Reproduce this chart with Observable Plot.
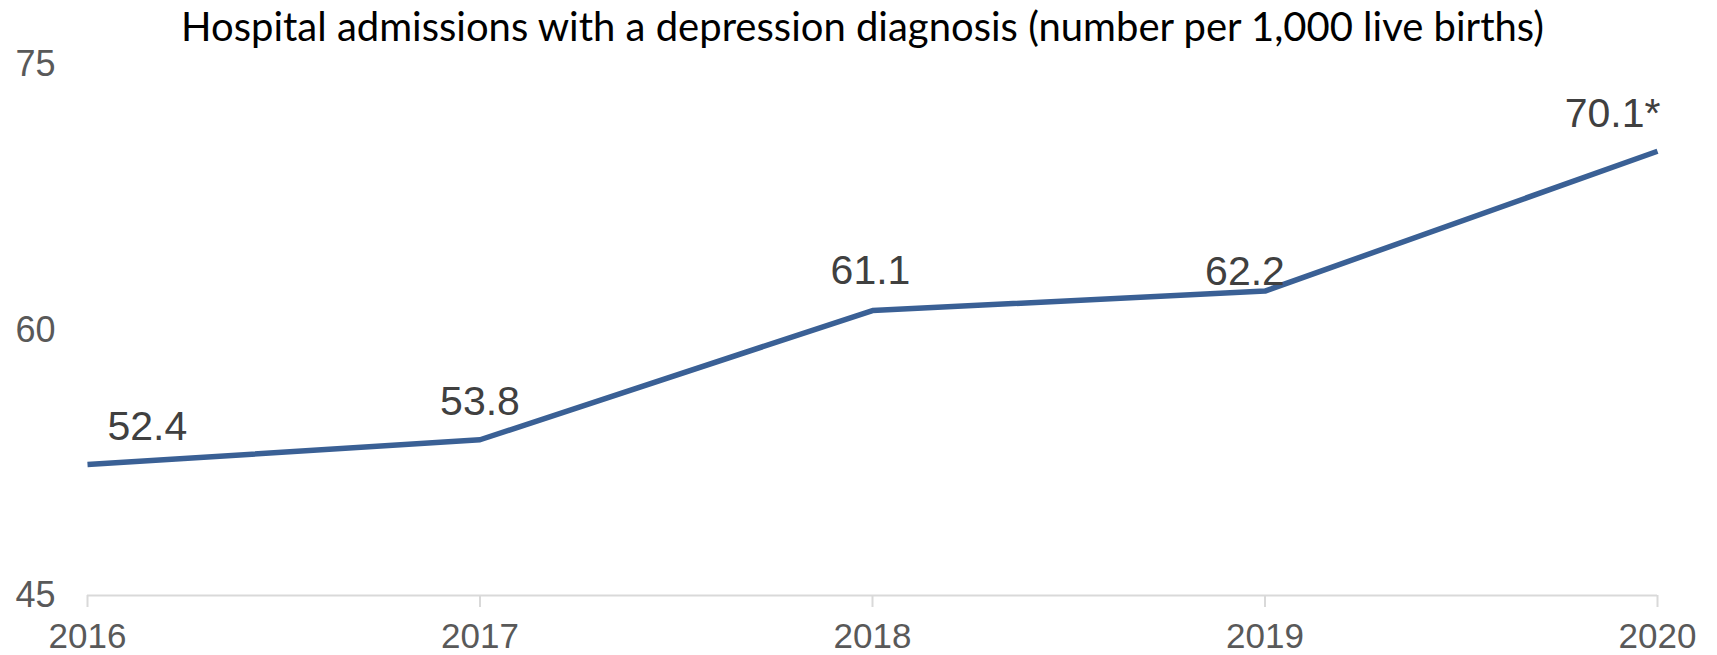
<!DOCTYPE html>
<html>
<head>
<meta charset="utf-8">
<script src="https://cdn.jsdelivr.net/npm/d3@7"></script>
<script src="https://cdn.jsdelivr.net/npm/@observablehq/plot@0.6"></script>
<style>
  html, body { margin: 0; padding: 0; background: #fff; }
  #title { width: 1717px; height: 50px; box-sizing: border-box; padding-top: 3px; text-align: center; font-family: Lato, "Open Sans", sans-serif; font-size: 40px; line-height: 46px; color: #000; white-space: nowrap; padding-left: 8px; }
  #chart svg { display: block; }
</style>
</head>
<body>
<div id="title">Hospital admissions with a depression diagnosis (number per 1,000 live births)</div>
<div id="chart"></div>
<script>
// ---- data ----
const years = [2016, 2017, 2018, 2019, 2020];
const admissions = [52.4, 53.8, 61.1, 62.2, 70.1];
const valueLabels = ["52.4", "53.8", "61.1", "62.2", "70.1*"];
const yTicks = [45, 60, 75];

// ---- build ----
const data = years.map((y, i) => ({year: y, value: admissions[i], label: valueLabels[i]}));
// label placement (layout only)
const labelAnchor = ["start", "middle", "middle", "middle", "end"];
const labelDx = [20, 0, -2, -20, 3];
const labelDy = [-25, -25, -27, -6, -24];

const numFont = "Liberation Sans, Arial, sans-serif";

const plot = Plot.plot({
  width: 1717,
  height: 605,
  marginTop: 14,
  marginBottom: 60,
  marginLeft: 87,
  marginRight: 60,
  style: {fontFamily: numFont, background: "#fff", overflow: "visible"},
  x: {domain: [2016, 2020], ticks: years, tickFormat: d => String(d), label: null},
  y: {domain: [45, 75], ticks: yTicks, label: null},
  marks: [
    Plot.ruleY([45], {stroke: "#d9d9d9", strokeWidth: 2}),
    Plot.axisX({ticks: years, tickFormat: d => String(d), label: null, tickSize: 12, tickPadding: 16, stroke: "#d9d9d9", strokeWidth: 2, fill: "#595959", fontSize: 35, strokeOpacity: 1}),
    Plot.axisY({ticks: yTicks, label: null, tickSize: 0, tickPadding: 32, fill: "#595959", fontSize: 36}),
    Plot.line(data, {x: "year", y: "value", stroke: "#3a6095", strokeWidth: 5.5, strokeLinejoin: "round", strokeLinecap: "butt"}),
    ...data.map((d, i) => Plot.text([d], {x: "year", y: "value", text: "label", textAnchor: labelAnchor[i], dx: labelDx[i], dy: labelDy[i], lineAnchor: "bottom", fontSize: 41, fill: "#404040"}))
  ]
});
document.getElementById("chart").appendChild(plot);
</script>
</body>
</html>
